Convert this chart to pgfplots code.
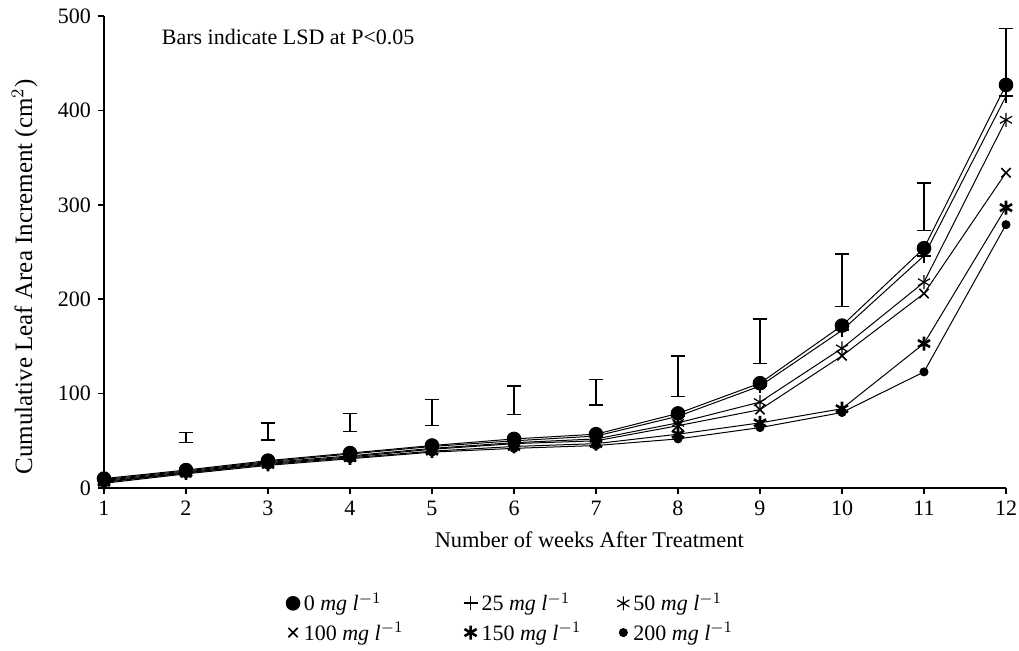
\documentclass[border=0pt]{standalone}
\usepackage{fontspec}
\setmainfont{Liberation Serif}
\usepackage{pgfplots}
\usepackage{pgfplotstable}
\pgfplotsset{compat=1.18}

% cumulative leaf area increment (cm^2) per treatment
\pgfplotstableread{
week c0  c25 c50 c100 c150 c200
1    10  9   8   7    6    5
2    19  18  17  16   16   15
3    29  28  27  26   25   24
4    37  36  34  33   32   31
5    45  44  42  41   39   38
6    52  50  48  47   44   42
7    57  55  52  50   47   45
8    79  76  69  66   57   52
9    111 108 91  83   69   64
10   172 167 148 140  84   80
11   254 246 218 206  153  123
12   427 415 390 334  297  279
}\leafdata

% LSD bars (centre, half length)
\pgfplotstableread{
week c     e
2    53.5  5.5
3    60    9
4    69.5  9.5
5    80    14
6    93    15
7    101.5 13.5
8    118.5 21.5
9    155.5 23.5
10   220   28
11   298   25
12   457   30
}\lsd

\begin{document}
\begin{tikzpicture}
\begin{axis}[
  scale only axis,
  width=451pt, height=236pt,
  xmin=1, xmax=12, ymin=0, ymax=500,
  xtick={1,...,12}, ytick={0,100,...,500},
  axis lines=left,
  axis line style={-, line width=0.9pt},
  tick align=outside,
  major tick length=3pt,
  tick style={black, line width=0.8pt},
  /pgf/number format/assume math mode=true,
  ticklabel style={font=\fontsize{11}{13}\selectfont},
  clip=false,
  xlabel={Number of weeks After Treatment},
  ylabel={Cumulative Leaf Area Increment (cm$^2$)},
  every axis x label/.style={at={(axis description cs:0.538,-0.078)}, anchor=north, font=\fontsize{11.2}{13}\selectfont},
  every axis y label/.style={at={(axis description cs:-0.088,0.447)}, rotate=90, anchor=center, font=\fontsize{12.5}{14}\selectfont},
  legend style={at={(axis description cs:0.452,-0.204)}, anchor=north, draw=none,
    legend columns=3, font=\fontsize{11}{13}\selectfont,
    /tikz/column 2/.style={column sep=28pt},
    /tikz/column 4/.style={column sep=16pt}},
  legend cell align=left,
  legend image code/.code={\draw[#1, only marks] plot coordinates {(0.1cm,0cm)};},
  every axis plot/.append style={black, line width=0.5pt},
]
\addplot[mark=*, mark size=3.4pt] table[x=week, y=c0] {\leafdata};
\addlegendentry{0 \textit{mg l}$^{-1}$}
\addplot[mark=+, mark size=3.5pt, mark options={line width=0.9pt}] table[x=week, y=c25] {\leafdata};
\addlegendentry{25 \textit{mg l}$^{-1}$}
\addplot[mark=asterisk, mark size=3.5pt, mark options={line width=0.6pt}] table[x=week, y=c50] {\leafdata};
\addlegendentry{50 \textit{mg l}$^{-1}$}
\addplot[mark=x, mark size=3.3pt, mark options={line width=0.8pt}] table[x=week, y=c100] {\leafdata};
\addlegendentry{100 \textit{mg l}$^{-1}$}
\addplot[mark=asterisk, mark size=3.5pt, mark options={line width=1.3pt}] table[x=week, y=c150] {\leafdata};
\addlegendentry{150 \textit{mg l}$^{-1}$}
\addplot[mark=*, mark size=2pt] table[x=week, y=c200] {\leafdata};
\addlegendentry{200 \textit{mg l}$^{-1}$}
\addplot[draw=none, mark=none, forget plot,
  error bars/.cd, y dir=both, y explicit,
  error bar style={line width=0.7pt, black},
  error mark=|, error mark options={mark size=3.5pt, line width=0.7pt, black}]
  table[x=week, y=c, y error=e] {\lsd};
\node[anchor=west, font=\fontsize{11}{13}\selectfont] at (axis cs:1.62,478) {Bars indicate LSD at P<0.05};
\end{axis}
\pgfresetboundingbox
\path ([xshift=-52pt,yshift=-81pt]current axis.south west) rectangle ([xshift=6.5pt,yshift=8pt]current axis.north east);
\end{tikzpicture}
\end{document}
